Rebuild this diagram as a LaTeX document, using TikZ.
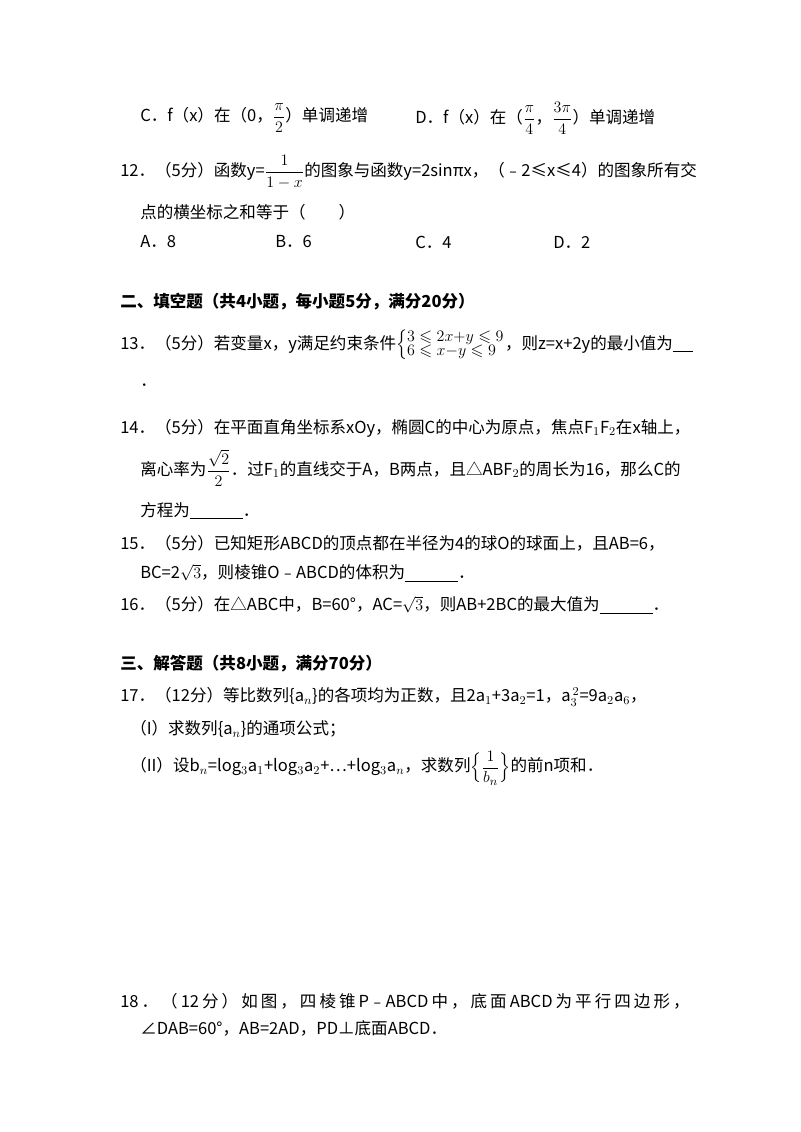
\documentclass[tikz,border=0pt]{standalone}
\usepackage{amsmath,amssymb}
\usepackage{fontspec}
\setmainfont{Noto Sans CJK SC}
\begin{document}
\begin{tikzpicture}[x=0.75pt,y=-0.75pt]
\tikzset{ln/.style={anchor=west,inner sep=0pt,font=\fontsize{12.4}{13}\selectfont},
hd/.style={ln,font=\fontsize{12.4}{13}\selectfont\bfseries}}
\useasboundingbox[fill=white] (0,0) rectangle (800,1132);
\newcommand\blank{\underline{\hspace{3.2em}}}
\node[ln] (c11) at (140,118) {C．f（x）在（0，$\dfrac{\pi}{2}$）单调递增};
\node[ln] (d11) at (415,118) {D．f（x）在（$\dfrac{\pi}{4}$，$\dfrac{3\pi}{4}$）单调递增};
\node[ln] (q12) at (120,172) {12．（5分）函数y=$\dfrac{1}{1-x}$的图象与函数y=2sinπx，（﹣2≤x≤4）的图象所有交};
\node[ln] (q12b) at (140,212) {点的横坐标之和等于（\hspace{2em}）};
\node[ln] (a12) at (140,242) {A．8};
\node[ln] (b12) at (275,242) {B．6};
\node[ln] (cc12) at (415,242) {C．4};
\node[ln] (dd12) at (553,242) {D．2};
\node[hd] (h2) at (120,302) {二、填空题（共4小题，每小题5分，满分20分）};
\node[ln] (q13) at (120,345) {13．（5分）若变量x，y满足约束条件$\left\{\begin{array}{@{}l@{}}3\leqslant 2x{+}y\leqslant 9\\[-2pt]6\leqslant x{-}y\leqslant 9\end{array}\right.$，则z=x+2y的最小值为\underline{\hspace{1.2em}}};
\node[ln] (q13b) at (140,385) {．};
\node[ln] (q14) at (120,428) {14．（5分）在平面直角坐标系xOy，椭圆C的中心为原点，焦点F$_1$F$_2$在x轴上，};
\node[ln] (q14b) at (140,468) {离心率为$\dfrac{\sqrt{2}}{2}$．过F$_1$的直线交于A，B两点，且△ABF$_2$的周长为16，那么C的};
\node[ln] (q14c) at (140,511) {方程为\blank．};
\node[ln] (q15) at (120,543) {15．（5分）已知矩形ABCD的顶点都在半径为4的球O的球面上，且AB=6，};
\node[ln] (q15b) at (140,573) {BC=2$\sqrt{3}$，则棱锥O﹣ABCD的体积为\blank．};
\node[ln] (q16) at (120,605) {16．（5分）在△ABC中，B=60°，AC=$\sqrt{3}$，则AB+2BC的最大值为\blank．};
\node[hd] (h3) at (120,664) {三、解答题（共8小题，满分70分）};
\node[ln] (q17) at (120,697) {17．（12分）等比数列\{a$_n$\}的各项均为正数，且2a$_1$+3a$_2$=1，a$_3^{\,2}$=9a$_2$a$_6$，};
\node[ln] (q17a) at (130,729) {（I）求数列\{a$_n$\}的通项公式；};
\node[ln] (q17b) at (130,768) {（II）设b$_n$=log$_3$a$_1$+log$_3$a$_2$+…+log$_3$a$_n$，求数列$\Big\{\dfrac{1}{b_n}\Big\}$的前n项和．};
\node[ln] (q18) at (120,1001) {\makebox[427pt][s]{18 ． （ 12 分 ） 如 图 ， 四 棱 锥 P﹣ABCD 中 ， 底 面 ABCD 为 平 行 四 边 形 ，}};
\node[ln] (q18b) at (140,1028) {∠DAB=60°，AB=2AD，PD⊥底面ABCD．};
\end{tikzpicture}
\end{document}
